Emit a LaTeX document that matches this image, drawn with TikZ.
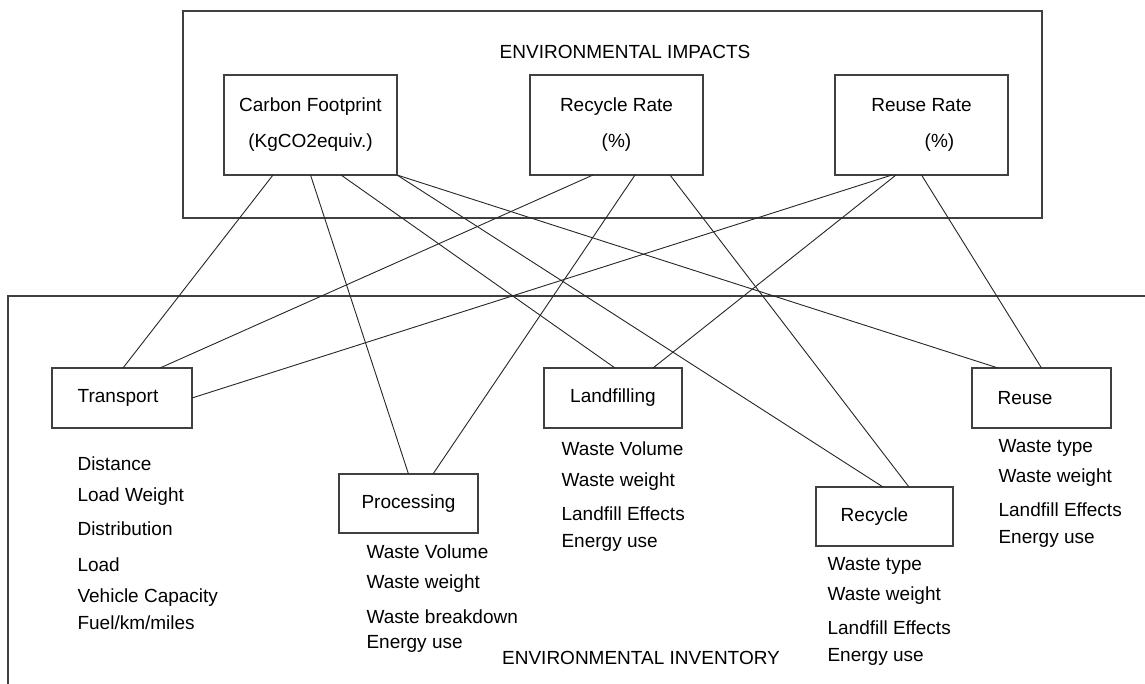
\documentclass[tikz,border=0pt]{standalone}
\usepackage{fontspec}
\setmainfont{Liberation Sans}
\usetikzlibrary{positioning, calc}

\begin{document}
\begin{tikzpicture}[x=1pt, y=-1pt, line width=1.1pt, draw=black!75,
  box/.style={draw=black!75, rectangle, inner sep=0pt, outer sep=0pt, align=center,
              font=\fontsize{19}{36}\selectfont},
  item/.style={anchor=mid west, inner sep=0pt, font=\fontsize{19}{22}\selectfont},
  heading/.style={inner sep=0pt, font=\fontsize{19}{22}\selectfont},
  link/.style={line width=0.9pt, draw=black!85}]
  \useasboundingbox (0,0) rectangle (1145,684);

  % impacts frame
  \draw (183,11) rectangle (1042,218);
  \node[heading] (imp) at (625,52) {ENVIRONMENTAL IMPACTS};
  \node[box, minimum width=173pt, minimum height=100pt] (cf) at (310.5,125)
        {Carbon Footprint\\(KgCO2equiv.)};
  \node[box, minimum width=173pt, minimum height=100pt] (rr) at (616.5,125)
        {Recycle Rate\\(\%)};
  \node[box, minimum width=173pt, minimum height=100pt] (rer) at (921.5,125)
        {Reuse Rate\\\hspace*{36pt}(\%)};

  % inventory frame
  \draw (8,690) -- (8,296) -- (1150,296);
  \node[heading] (inv) at (641,658) {ENVIRONMENTAL INVENTORY};
  \node[box, minimum width=140pt, minimum height=60pt] (trans) at (122,398) {Transport\hspace*{8pt}};
  \node[box, minimum width=139pt, minimum height=59pt] (proc) at (408.5,503.5) {Processing};
  \node[box, minimum width=138pt, minimum height=60pt] (land) at (613,398) {Landfilling};
  \node[box, minimum width=137pt, minimum height=59pt] (recy) at (884.5,516.5) {Recycle\hspace*{20pt}};
  \node[box, minimum width=139pt, minimum height=60pt] (reuse) at (1041.5,398) {Reuse\hspace*{33pt}};

  % inventory items
  \foreach \y/\t [count=\i] in {468/Distance, 499/Load Weight, 533/Distribution,
                                569/Load, 600/Vehicle Capacity, 627/{Fuel/km/miles}}
    \node[item] (trans-\i) at (77,\y) {\t};
  \foreach \y/\t [count=\i] in {556/Waste Volume, 586/Waste weight,
                                621/Waste breakdown, 646/Energy use}
    \node[item] (proc-\i) at (366,\y) {\t};
  \foreach \y/\t [count=\i] in {453/Waste Volume, 484/Waste weight,
                                518/Landfill Effects, 545/Energy use}
    \node[item] (land-\i) at (561,\y) {\t};
  \foreach \y/\t [count=\i] in {568/Waste type, 598/Waste weight,
                                632/Landfill Effects, 659/Energy use}
    \node[item] (recy-\i) at (827,\y) {\t};
  \foreach \y/\t [count=\i] in {450/Waste type, 480/Waste weight,
                                514/Landfill Effects, 541/Energy use}
    \node[item] (reuse-\i) at (998,\y) {\t};

  % links from carbon footprint
  \draw[link] ([xshift=-37.5pt]cf.south) -- ([xshift=1pt]trans.north);
  \draw[link] (cf.south) -- (proc.north);
  \draw[link] ([xshift=30.5pt]cf.south) -- ([xshift=2pt]land.north);
  \draw[link] (cf.south east) -- ([xshift=-1.5pt]recy.north);
  \draw[link] (cf.south east) -- ([xshift=-43.5pt]reuse.north);
  % links from recycle rate
  \draw[link] ([xshift=-23.5pt]rr.south) -- ([xshift=38pt]trans.north);
  \draw[link] ([xshift=18.5pt]rr.south) -- ([xshift=24.5pt]proc.north);
  \draw[link] ([xshift=53.5pt]rr.south) -- ([xshift=24.5pt]recy.north);
  % links from reuse rate
  \draw[link] ([xshift=-29.5pt]rer.south) -- (trans.east);
  \draw[link] ([xshift=-25.5pt]rer.south) -- ([xshift=40pt]land.north);
  \draw[link] (rer.south) -- (reuse.north);
\end{tikzpicture}
\end{document}
